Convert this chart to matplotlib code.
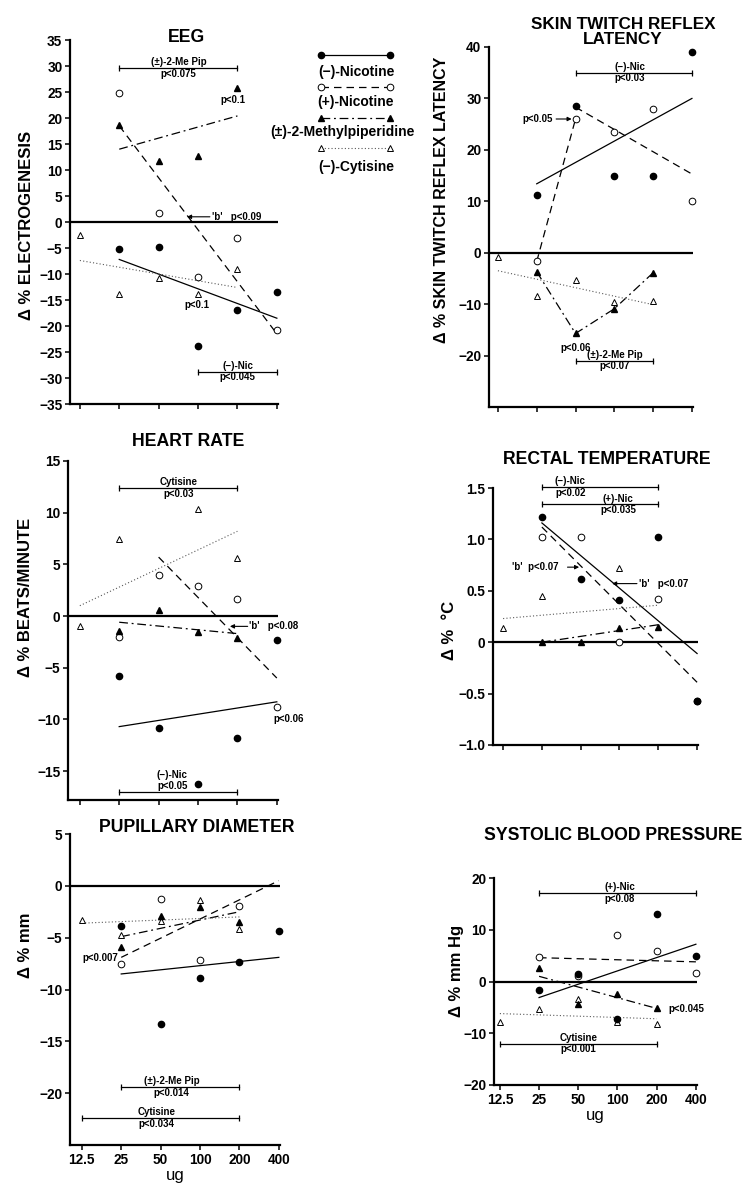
import matplotlib
matplotlib.use("Agg")
import matplotlib.pyplot as plt

plt.rcParams['font.family'] = ['Liberation Sans', 'DejaVu Sans']
plt.rcParams['font.weight'] = 'bold'

W, H = 748, 1184

DOSES = ["12.5", "25", "50", "100", "200", "400"]
SERIES = ["nic_m", "nic_p", "pip", "cyt"]
LEGEND_LABELS = ["(−)-Nicotine", "(+)-Nicotine", "(±)-2-Methylpiperidine", "(−)-Cytisine"]

# group means per dose (None = no point shown)
eeg_nic_m = [None, -5.2, -4.8, -23.8, -16.9, -13.4]
eeg_nic_p = [None, 24.8, 1.7, -10.6, -3.1, -20.8]
eeg_pip = [None, 18.7, 11.7, 12.7, 25.8, None]
eeg_cyt = [-2.5, -13.8, -10.8, -13.8, -9.1, None]

skin_nic_m = [None, 11.3, 28.5, 15.0, 15.0, 39.0]
skin_nic_p = [None, -1.7, 26.0, 23.5, 27.9, 10.1]
skin_pip = [None, -3.7, -15.7, -10.9, -3.9, None]
skin_cyt = [-0.8, -8.5, -5.4, -9.5, -9.3, None]

hr_nic_m = [None, -5.8, -10.8, -16.3, -11.8, -2.3]
hr_nic_p = [None, -2.0, 4.0, 2.9, 1.6, -8.8]
hr_pip = [None, -1.4, 0.6, -1.5, -2.1, None]
hr_cyt = [-1.0, 7.5, None, 10.4, 5.6, None]

rt_nic_m = [None, 1.22, 0.61, 0.41, 1.02, -0.57]
rt_nic_p = [None, 1.02, 1.02, 0.0, 0.42, -0.57]
rt_pip = [None, 0.0, 0.0, 0.14, 0.15, None]
rt_cyt = [0.14, 0.45, None, 0.72, None, None]

pd_nic_m = [None, -3.9, -13.3, -8.9, -7.3, -4.4]
pd_nic_p = [None, -7.5, -1.3, -7.2, -1.9, None]
pd_pip = [None, -5.9, -2.9, -2.0, -3.5, None]
pd_cyt = [-3.3, -4.7, -3.4, -1.4, -4.2, None]

bp_nic_m = [None, -1.7, 1.5, -7.2, 13.0, 5.0]
bp_nic_p = [None, 4.8, 1.0, 8.9, 5.8, 1.6]
bp_pip = [None, 2.7, -4.4, -2.5, -5.2, None]
bp_cyt = [-7.9, -5.4, -3.3, -7.9, -8.3, None]

# regression / connecting lines: (series, dose indices, values)
eeg_fits = [("nic_m", [1, 5], [-7.2, -18.5]), ("nic_p", [1, 5], [18.5, -21.5]),
            ("pip", [1, 4], [14.0, 20.4]), ("cyt", [0, 4], [-7.4, -12.6])]
skin_fits = [("nic_m", [1, 5], [13.4, 30.0]), ("nic_p", [1, 2], [-1.7, 26.0]),
             ("nic_p", [2, 5], [28.3, 15.3]), ("pip", [1, 2, 3, 4], [-3.7, -15.7, -10.9, -3.9]),
             ("cyt", [0, 4], [-3.5, -10.1])]
hr_fits = [("nic_m", [1, 5], [-10.7, -8.3]), ("nic_p", [2, 5], [5.7, -6.0]),
           ("pip", [1, 4], [-0.6, -1.7]), ("cyt", [0, 4], [1.0, 8.2])]
rt_fits = [("nic_m", [1, 5], [1.16, -0.11]), ("nic_p", [1, 5], [1.12, -0.39]),
           ("pip", [1, 4], [0.0, 0.17]), ("cyt", [0, 4], [0.23, 0.36])]
pd_fits = [("nic_m", [1, 5], [-8.5, -6.9]), ("nic_p", [1, 5], [-6.9, 0.5]),
           ("pip", [1, 4], [-4.9, -2.5]), ("cyt", [0, 4], [-3.6, -3.0])]
bp_fits = [("nic_m", [1, 5], [-3.1, 7.2]), ("nic_p", [1, 5], [4.6, 3.8]),
           ("pip", [1, 4], [1.0, -5.2]), ("cyt", [0, 4], [-6.2, -7.2])]

MK = {"nic_m": dict(marker="o", mfc="k", mec="k", ms=4.5),
      "nic_p": dict(marker="o", mfc="white", mec="k", ms=4.8, mew=0.7),
      "pip": dict(marker="^", mfc="k", mec="k", ms=5),
      "cyt": dict(marker="^", mfc="white", mec="k", ms=5, mew=0.7)}
LS = {"nic_m": dict(ls="-", lw=0.9, color="k"),
      "nic_p": dict(ls=(0, (6, 4)), lw=0.9, color="k"),
      "pip": dict(ls=(0, (7, 3, 1.5, 3)), lw=0.9, color="k"),
      "cyt": dict(ls=(0, (1, 2)), lw=0.8, color="0.35")}

TXT = 7

fig = plt.figure(figsize=(W / 100, H / 100), dpi=100)
ov = fig.add_axes([0, 0, 1, 1])
ov.set_xlim(0, W)
ov.set_ylim(H, 0)
ov.axis("off")


def make_axes(left, unit, xmin, top, bottom, ylim, yticks, ylabels=None, xlabels=False):
    xmax = 5.02
    rect = [left / W, 1 - bottom / H, (xmax - xmin) * unit / W, (bottom - top) / H]
    ax = fig.add_axes(rect)
    ax.set_facecolor("none")
    ax.set_xlim(xmin, xmax)
    ax.set_ylim(*ylim)
    for s in ["top", "right"]:
        ax.spines[s].set_visible(False)
    for s in ["left", "bottom"]:
        ax.spines[s].set_linewidth(1.6)
    ax.set_xticks(range(len(DOSES)))
    ax.set_yticks(yticks)
    if ylabels is not None:
        ax.set_yticklabels(ylabels)
    ax.tick_params(direction="out", length=3.5, width=1.1, labelsize=9.8, pad=2)
    if xlabels:
        ax.set_xticklabels(DOSES)
        ax.set_xlabel("ug", fontsize=12, labelpad=1)
    else:
        ax.tick_params(axis="x", labelbottom=False)
    ax.plot([xmin, len(DOSES) - 1], [0, 0], color="k", lw=1.6, zorder=2)
    return ax


def draw_data(ax, pts, fits):
    for name, xs, ys in fits:
        ax.plot(xs, ys, zorder=3, **LS[name])
    for name in ["nic_p", "cyt", "nic_m", "pip"]:
        vals = pts[name]
        xs = [i for i, v in enumerate(vals) if v is not None]
        ys = [v for v in vals if v is not None]
        ax.plot(xs, ys, ls="none", zorder=4, clip_on=False, **MK[name])


def bracket(ax, i0, i1, y, top=None, bottom=None, xc=None):
    ax.plot([i0, i1], [y, y], color="k", lw=0.9, clip_on=False)
    ax.plot([i0, i1], [y, y], ls="none", marker="|", ms=5, mew=0.9, color="k", clip_on=False)
    if xc is None:
        xc = (i0 + i1) / 2
    if top:
        ax.annotate(top, (xc, y), xytext=(0, 0.5), textcoords="offset points",
                    ha="center", va="bottom", fontsize=TXT, annotation_clip=False)
    if bottom:
        ax.annotate(bottom, (xc, y), xytext=(0, -0.5), textcoords="offset points",
                    ha="center", va="top", fontsize=TXT, annotation_clip=False)


def arrow(ax, head, tail, y):
    ax.annotate("", xy=(head, y), xytext=(tail, y), annotation_clip=False,
                arrowprops=dict(arrowstyle="-|>", color="k", lw=0.8,
                                mutation_scale=6, shrinkA=0, shrinkB=0))


def note(ax, x, y, s, ha="center", va="center"):
    ax.text(x, y, s, ha=ha, va=va, fontsize=TXT, clip_on=False)


# EEG
ax = make_axes(70, 39.4, -0.25, 40, 404, (-35, 35), list(range(-35, 36, 5)))
draw_data(ax, dict(nic_m=eeg_nic_m, nic_p=eeg_nic_p, pip=eeg_pip, cyt=eeg_cyt), eeg_fits)
bracket(ax, 1, 4, 29.6, "(±)-2-Me Pip", "p<0.075")
note(ax, 3.88, 23.5, "p<0.1")
arrow(ax, 2.72, 3.3, 1.0)
note(ax, 3.35, 1.0, "'b'   p<0.09", ha="left")
note(ax, 2.97, -15.9, "p<0.1")
bracket(ax, 3, 5, -28.8, "(−)-Nic", "p<0.045")

# Skin twitch reflex latency
ax = make_axes(489, 38.8, -0.23, 47, 407, (-30, 40), [-20, -10, 0, 10, 20, 30, 40])
draw_data(ax, dict(nic_m=skin_nic_m, nic_p=skin_nic_p, pip=skin_pip, cyt=skin_cyt), skin_fits)
bracket(ax, 2, 5, 35, "(−)-Nic", "p<0.03", xc=3.4)
note(ax, 1.42, 26, "p<0.05", ha="right")
arrow(ax, 1.9, 1.5, 26)
note(ax, 2.0, -17.6, "p<0.06", va="top")
bracket(ax, 2, 4, -21, "(±)-2-Me Pip", "p<0.07")

# Heart rate
ax = make_axes(68, 39.4, -0.3, 461, 800, (-17.8, 15), [-15, -10, -5, 0, 5, 10, 15])
draw_data(ax, dict(nic_m=hr_nic_m, nic_p=hr_nic_p, pip=hr_pip, cyt=hr_cyt), hr_fits)
bracket(ax, 1, 4, 12.4, "Cytisine", "p<0.03")
arrow(ax, 3.81, 4.26, -1.0)
note(ax, 4.3, -1.0, "'b'   p<0.08", ha="left")
note(ax, 5.3, -10.0, "p<0.06")
bracket(ax, 1, 4, -17.0)
note(ax, 2.35, -15.9, "(−)-Nic\np<0.05", va="center")

# Rectal temperature
ax = make_axes(493, 38.8, -0.26, 488, 745, (-1, 1.5), [-1.0, -0.5, 0, 0.5, 1.0, 1.5],
               ["−1.0", "−0.5", "0", "0.5", "1.0", "1.5"])
draw_data(ax, dict(nic_m=rt_nic_m, nic_p=rt_nic_p, pip=rt_pip, cyt=rt_cyt), rt_fits)
bracket(ax, 1, 4, 1.51, "(−)-Nic", "p<0.02", xc=1.73)
bracket(ax, 1, 4, 1.34, "(+)-Nic", "p<0.035", xc=2.96)
note(ax, 1.42, 0.73, "'b'  p<0.07", ha="right")
arrow(ax, 1.96, 1.66, 0.73)
arrow(ax, 2.81, 3.45, 0.57)
note(ax, 3.5, 0.57, "'b'   p<0.07", ha="left")

# Pupillary diameter
ax = make_axes(70, 39.4, -0.3, 834, 1145, (-25, 5), [-20, -15, -10, -5, 0, 5], xlabels=True)
draw_data(ax, dict(nic_m=pd_nic_m, nic_p=pd_nic_p, pip=pd_pip, cyt=pd_cyt), pd_fits)
note(ax, 0.92, -7.0, "p<0.007", ha="right")
bracket(ax, 1, 4, -19.4, "(±)-2-Me Pip", "p<0.014", xc=2.28)
bracket(ax, 0, 4, -22.4, "Cytisine", "p<0.034", xc=1.9)

# Systolic blood pressure
ax = make_axes(494, 39.2, -0.15, 878, 1085, (-20, 20), [-20, -10, 0, 10, 20], xlabels=True)
draw_data(ax, dict(nic_m=bp_nic_m, nic_p=bp_nic_p, pip=bp_pip, cyt=bp_cyt), bp_fits)
bracket(ax, 1, 5, 17.1, "(+)-Nic", "p<0.08", xc=3.06)
note(ax, 4.3, -5.4, "p<0.045", ha="left")
bracket(ax, 0, 4, -12, "Cytisine", "p<0.001", xc=2.0)

# titles and axis labels (figure pixel layout)
TS = 12.7
ov.text(187, 37, "EEG", ha="center", va="center", fontsize=TS)
ov.text(623, 32, "SKIN TWITCH REFLEX\nLATENCY", ha="center", va="center", fontsize=12.3,
        linespacing=1.0)
ov.text(188, 442, "HEART RATE", ha="center", va="center", fontsize=TS)
ov.text(607, 460, "RECTAL TEMPERATURE", ha="center", va="center", fontsize=TS)
ov.text(197, 828, "PUPILLARY DIAMETER", ha="center", va="center", fontsize=TS)
ov.text(613, 835, "SYSTOLIC BLOOD PRESSURE", ha="center", va="center", fontsize=TS)

YS = 12
ov.text(27, 225, "Δ % ELECTROGENESIS", rotation=90, ha="center", va="center", fontsize=YS)
ov.text(442, 200, "Δ % SKIN TWITCH REFLEX LATENCY", rotation=90, ha="center", va="center",
        fontsize=11.5)
ov.text(26, 597, "Δ % BEATS/MINUTE", rotation=90, ha="center", va="center", fontsize=YS)
ov.text(450, 630, "Δ %  °C", rotation=90, ha="center", va="center", fontsize=YS)
ov.text(26, 945, "Δ % mm", rotation=90, ha="center", va="center", fontsize=YS)
ov.text(457, 971, "Δ % mm Hg", rotation=90, ha="center", va="center", fontsize=YS)

# legend
leg_line_y = [55, 87, 118, 148]
leg_text_y = [72, 102, 132, 167]
leg_text_x = [356, 356, 342, 356]
for name, lab, ly, ty, tx in zip(SERIES, LEGEND_LABELS, leg_line_y, leg_text_y, leg_text_x):
    ov.plot([321, 390], [ly, ly], **LS[name])
    ov.plot([321, 390], [ly, ly], ls="none", **MK[name])
    ov.text(tx, ty, lab, ha="center", va="center", fontsize=10)

fig.savefig("out.png", dpi=100)
